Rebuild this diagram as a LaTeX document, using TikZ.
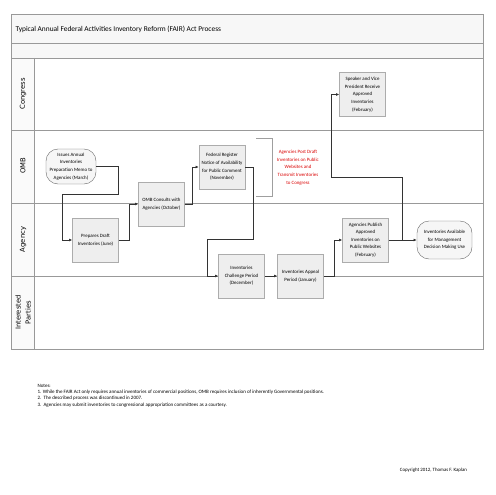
\documentclass[tikz,border=0pt]{standalone}
\usepackage{fontspec}
\setmainfont{Carlito}
\newfontfamily\lanefont{DejaVu Sans}
\usetikzlibrary{arrows.meta,shadows}

\tikzset{
  procbox/.style={draw=gray!65, fill=gray!13, minimum width=46pt, minimum height=44pt,
    align=center, inner sep=1pt, font=\fontsize{4.9}{7.6}\selectfont,
    drop shadow={shadow xshift=0.7pt, shadow yshift=-0.7pt, opacity=0.25}},
  termbox/.style={draw=gray!80!black, fill=gray!7, rounded corners=12pt, align=center,
    inner sep=1pt, font=\fontsize{4.9}{7.6}\selectfont},
  lanelabel/.style={rotate=90, align=center, font=\lanefont\fontsize{6.8}{10}\selectfont},
  lane/.style={draw=gray!80, line width=0.9pt},
  flow/.style={-{Latex[length=3.2pt,width=2.8pt]}, draw=black!80, line width=0.6pt}
}

\begin{document}
\begin{tikzpicture}[x=1pt,y=-1pt]
    \useasboundingbox (0,0) rectangle (495,495);

    % Titolo e corsie
    \fill[gray!6] (11,14) rectangle (483,58);
    \fill[gray!4] (11,58) rectangle (34,349);
    \draw[lane] (11,43) -- (483,43);
    \draw[lane] (11,58) -- (483,58);
    \draw[lane] (11,130) -- (483,130);
    \draw[lane] (11,203) -- (483,203);
    \draw[lane] (11,276) -- (483,276);
    \draw[lane] (34,58) -- (34,349);
    \draw[lane] (11,14) rectangle (483,349);

    \node[anchor=west, font=\fontsize{7.4}{9}\selectfont] (title) at (12,29)
        {Typical Annual Federal Activities Inventory Reform (FAIR) Act Process};

    \node[lanelabel] (congress) at (23,94) {Congress};
    \node[lanelabel] (omblane) at (23,166) {OMB};
    \node[lanelabel] (agency) at (23,239.5) {Agency};
    \node[lanelabel] (parties) at (23,312.5) {Interested\\Parties};

    % Passi del processo
    \node[termbox, minimum width=50pt, minimum height=35pt] (issues) at (71,166.5)
        {Issues Annual\\Inventories\\Preparation Memo to\\Agencies (March)};
    \node[procbox] (prep) at (95.5,240) {Prepares Draft\\Inventories (June)};
    \node[procbox] (omb) at (161.5,204) {OMB Consults with\\Agencies (October)};
    \node[procbox] (fed) at (222,167) {Federal Register\\Notice of Availability\\for Public Comment\\(November)};
    \node[procbox] (speaker) at (362.5,94.5) {Speaker and Vice\\President Receive\\Approved\\Inventories\\(February)};
    \node[procbox] (chal) at (241.5,276) {Inventories\\Challenge Period\\(December)};
    \node[procbox] (appeal) at (300.5,276) {Inventories Appeal\\Period (January)};
    \node[procbox] (pub) at (365.5,240) {Agencies Publish\\Approved\\Inventories on\\Public Websites\\(February)};
    \node[termbox, minimum width=55pt, minimum height=38pt] (avail) at (444.5,240)
        {Inventories Available\\for Management\\Decision Making Use};

    % Nota in rosso con parentesi
    \draw[gray!75, line width=0.6pt] (256,138) -- (272,138) -- (272,196) -- (256,196);
    \node[red!85!black, align=center, font=\fontsize{4.9}{7.7}\selectfont] (post) at (298,167.5)
        {Agencies Post Draft\\Inventories on Public\\Websites and\\Transmit Inventories\\to Congress};

    % Frecce
    \draw[flow] (issues.east) -| (118,194) -| (62,240) -- (prep.west);
    \draw[flow] (prep.east) -- ++(11,0) |- (omb.west);
    \draw[flow] (omb.east) -- ++(8,0) |- (fed.west);
    \draw[flow] (fed.east) -| (253,239) -| (207,276) -- (chal.west);
    \draw[flow] (chal) -- (appeal);
    \draw[flow] (appeal.east) -- ++(11,0) |- (pub.west);
    \draw[flow] (pub) -- (avail);
    \coordinate (split) at (402,240);
    \draw[flow] (split) |- (331,177) |- (speaker.west);

    % Note
    \node[anchor=north west, align=left, font=\fontsize{5}{6.1}\selectfont] (notes) at (34,381)
        {Notes:\\
         1. While the FAIR Act only requires annual inventories of commercial positions, OMB requires inclusion of inherently Governmental positions.\\
         2.\ \ The described process was discontinued in 2007.\\
         3.\ \ Agencies may submit inventories to congressional appropriation committees as a courtesy.};
    \node[font=\fontsize{4.9}{6}\selectfont] (copy) at (433.5,470) {Copyright 2012, Thomas F. Kaplan};
\end{tikzpicture}
\end{document}
